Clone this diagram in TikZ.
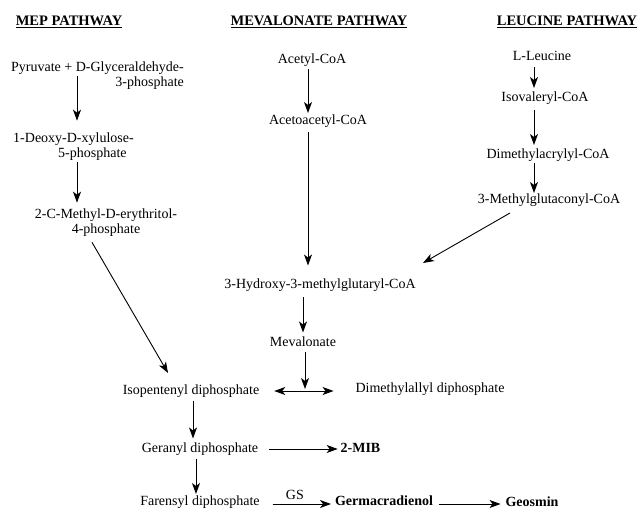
\documentclass[tikz,border=0pt]{standalone}
\usepackage{fontspec}
\setmainfont{Liberation Serif}
\newfontfamily\tnr{Liberation Serif}
\usetikzlibrary{arrows.meta,calc}
\begin{document}
\begin{tikzpicture}[x=1pt,y=-1pt,
 every node/.style={inner sep=0pt, outer sep=0pt, font=\tnr\fontsize{14}{15}\selectfont},
 lbl/.style={text height=10pt, text depth=3pt},
 hdr/.style={font=\tnr\fontsize{14.5}{15}\selectfont\bfseries},
 prod/.style={lbl, font=\tnr\fontsize{14}{15}\selectfont\bfseries},
 arr/.style={-{Stealth[length=11pt,width=8pt,inset=3pt]}, line width=0.9pt},
 dbl/.style={{Stealth[length=11pt,width=8pt,inset=3pt]}-{Stealth[length=11pt,width=8pt,inset=3pt]}, line width=0.9pt},
]
\useasboundingbox (0,0) rectangle (640,510);
% headers
\node[hdr] (hmep) at (69,22) {\underline{MEP PATHWAY}};
\node[hdr] (hmev) at (319,22) {\underline{MEVALONATE PATHWAY}};
\node[hdr] (hleu) at (567,22) {\underline{LEUCINE PATHWAY}};
% MEP pathway
\node[align=right] (pyr) at (97.5,76) {Pyruvate + D-Glyceraldehyde-\\3-phosphate};
\node[align=left] (dxp) at (73.5,146.5) {1-Deoxy-D-xylulose-\\\hspace*{45pt}5-phosphate};
\node[align=center] (mep) at (106,222.5) {2-C-Methyl-D-erythritol-\\4-phosphate};
% mevalonate pathway
\node[lbl] (acc) at (312,60) {Acetyl-CoA};
\node[lbl] (aac) at (318,121) {Acetoacetyl-CoA};
\node[lbl] (hmg) at (320,285) {3-Hydroxy-3-methylglutaryl-CoA};
\node[lbl] (mva) at (303,343) {Mevalonate};
% common
\node[lbl] (ipp) at (191,391) {Isopentenyl diphosphate};
\node[lbl] (dma) at (430,389) {Dimethylallyl diphosphate};
\node[lbl] (gpp) at (200,449) {Geranyl diphosphate};
\node[prod] (mib) at (360.5,449) {2-MIB};
\node[lbl] (fpp) at (200,502) {Farensyl diphosphate};
\node[prod] (gdl) at (384,502) {Germacradienol};
\node[prod] (geo) at (532,503) {Geosmin};
% leucine pathway
\node[lbl] (leu) at (542,57) {L-Leucine};
\node[lbl] (ivc) at (545,98) {Isovaleryl-CoA};
\node[lbl] (dac) at (548,155) {Dimethylacrylyl-CoA};
\node[lbl] (mgc) at (549,200) {3-Methylglutaconyl-CoA};
% MEP arrows
\draw[arr] ([xshift=-20.5pt]pyr.center) -- ([xshift=3.5pt,yshift=12pt]dxp.north);
\draw[arr] ([xshift=3.5pt,yshift=-2pt]dxp.south) -- ([xshift=-29pt,yshift=6pt]mep.north);
\draw[arr] ([xshift=-14pt,yshift=-6pt]mep.south) -- ([xshift=-23pt,yshift=11.5pt]ipp.north);
% mevalonate arrows
\draw[arr] ([xshift=-4pt,yshift=-3pt]acc.south) -- ([xshift=-10pt,yshift=1.5pt]aac.north);
\draw[arr] ([xshift=-10pt,yshift=-5pt]aac.south) -- ([xshift=-12pt,yshift=13pt]hmg.north);
\draw[arr] ([xshift=-17pt,yshift=-6pt]hmg.south) -- ([yshift=4pt]mva.north);
\draw[dbl] ($(ipp.east)+(15,0)$) -- ($(ipp.east -| dma.west)+(-22,0)$);
\draw[arr] ([xshift=2pt,yshift=-3pt]mva.south) -- ($(ipp.east -| mva.south)+(2,-2)$);
% leucine arrows
\draw[arr] ([xshift=-8pt,yshift=-3.5pt]leu.south) -- ([xshift=-11pt,yshift=3.5pt]ivc.north);
\draw[arr] ([xshift=-11pt,yshift=-5.5pt]ivc.south) -- ([xshift=-14pt,yshift=3.5pt]dac.north);
\draw[arr] ([xshift=-14pt,yshift=-1.5pt]dac.south) -- ([xshift=-15pt,yshift=0.5pt]mgc.north);
\draw[arr] ([xshift=-39pt,yshift=-6.5pt]mgc.south) -- ([xshift=103pt,yshift=15.5pt]hmg.north);
% lower arrows
\draw[arr] ([xshift=2pt,yshift=-4pt]ipp.south) -- ([xshift=-7pt,yshift=4pt]gpp.north);
\draw[arr] ([xshift=-4pt,yshift=-3pt]gpp.south) -- ([xshift=-4pt,yshift=1.5pt]fpp.north);
\draw[arr] ([xshift=11pt]gpp.east) -- ([xshift=-3pt]mib.west);
\draw[arr] ([xshift=13pt,yshift=-2pt]fpp.east) -- node[pos=0.38, above=4pt] (gs) {GS} ([xshift=-4pt,yshift=-2pt]gdl.west);
\draw[arr] ([xshift=6pt,yshift=-2pt]gdl.east) -- ([xshift=-5pt,yshift=-1pt]geo.west);
\end{tikzpicture}
\end{document}
